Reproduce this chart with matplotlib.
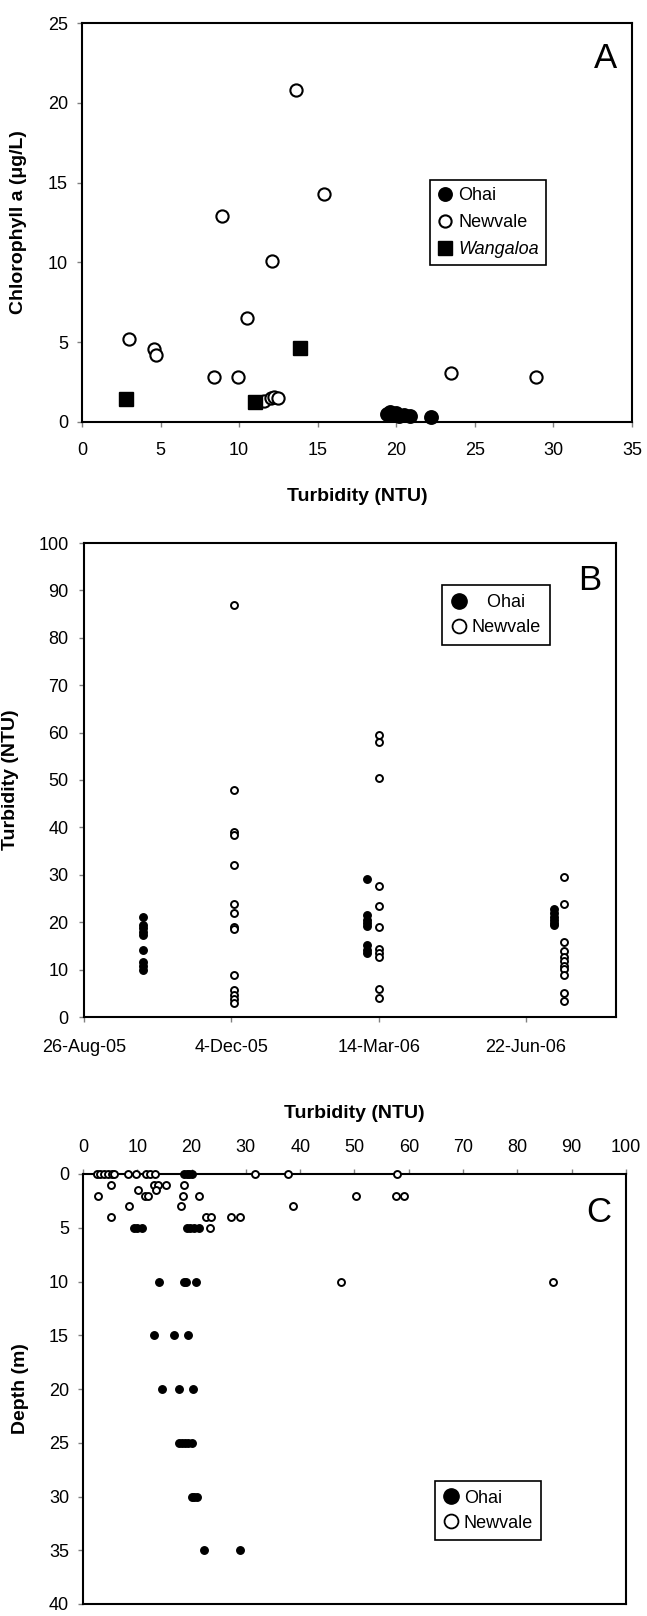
import matplotlib
matplotlib.use("Agg")
import matplotlib.pyplot as plt
from matplotlib.lines import Line2D
import numpy as np

plt.rcParams["font.family"] = ["Liberation Sans", "DejaVu Sans"]
plt.rcParams["font.size"] = 13

W, H = 647, 1616

# ---- panel A : chlorophyll a against turbidity
a_ohai_turb = [19.4, 19.6, 19.8, 20.0, 20.2, 20.5, 20.9, 22.2]
a_ohai_chla = [0.5, 0.6, 0.45, 0.55, 0.4, 0.45, 0.4, 0.3]
a_newvale_turb = [13.6, 15.4, 8.9, 12.1, 10.5, 3.0, 4.6, 4.7, 8.4, 9.9, 23.5, 28.9, 11.6, 12.0, 12.2, 12.5]
a_newvale_chla = [20.8, 14.3, 12.9, 10.1, 6.5, 5.2, 4.6, 4.2, 2.8, 2.8, 3.1, 2.8, 1.3, 1.5, 1.55, 1.5]
a_wang_turb = [2.8, 11.0, 13.9]
a_wang_chla = [1.45, 1.25, 4.65]

# ---- panel B : turbidity by sampling date
b_tick_dates = ["2005-08-26", "2005-12-04", "2006-03-14", "2006-06-22"]
b_tick_labels = ["26-Aug-05", "4-Dec-05", "14-Mar-06", "22-Jun-06"]
b_ohai_dates = ["2005-10-05", "2006-03-06", "2006-07-11"]
b_ohai_turb = [
    [21.2, 19.5, 18.8, 18.0, 17.3, 14.2, 11.5, 10.7, 10.0],
    [29.1, 21.6, 20.5, 19.8, 19.2, 15.2, 14.2, 13.5],
    [22.7, 21.9, 21.1, 20.4, 19.8, 19.4],
]
b_newvale_dates = ["2005-12-06", "2006-03-14", "2006-07-18"]
b_newvale_turb = [
    [87.0, 47.9, 39.0, 38.3, 32.0, 23.8, 21.9, 19.0, 18.6, 8.9, 5.8, 4.7, 3.7, 3.0],
    [59.4, 58.0, 50.4, 27.6, 23.4, 18.9, 14.4, 13.5, 12.6, 5.9, 4.0],
    [29.5, 23.8, 15.9, 14.0, 12.7, 11.9, 10.7, 10.1, 8.9, 5.1, 3.4],
]

# ---- panel C : turbidity with depth
c_ohai_turb = [18.6, 19.1, 19.6, 20.1, 9.4, 9.9, 10.9, 19.1, 19.7, 20.4, 21.3,
               14.0, 18.6, 19.0, 20.9, 13.0, 16.7, 19.4, 14.6, 17.7, 20.3,
               17.6, 18.2, 18.8, 19.4, 20.0, 20.1, 20.5, 21.0, 22.2, 28.9]
c_ohai_depth = [0, 0, 0, 0, 5, 5, 5, 5, 5, 5, 5,
                10, 10, 10, 10, 15, 15, 15, 20, 20, 20,
                25, 25, 25, 25, 25, 30, 30, 30, 35, 35]
c_newvale_turb = [2.5, 3.2, 3.9, 4.6, 5.3, 5.8, 8.2, 9.7, 11.6, 12.4, 13.2, 31.6, 37.8, 57.8,
                  5.1, 13.0, 13.8, 15.3, 18.6,
                  10.2, 13.4,
                  2.8, 11.4, 12.0, 18.4, 21.4, 50.2, 57.7, 59.2,
                  8.4, 18.1, 38.7,
                  5.1, 22.6, 23.5, 27.3, 28.9,
                  23.4,
                  47.5, 86.6]
c_newvale_depth = [0] * 14 + [1] * 5 + [1.5] * 2 + [2] * 8 + [3] * 3 + [4] * 5 + [5] + [10] * 2


def px_axes(fig, left, top, right, bottom):
    return fig.add_axes([left / W, (H - bottom) / H, (right - left) / W, (bottom - top) / H])


def style(ax, xpad, ypad):
    for s in ax.spines.values():
        s.set_linewidth(1.5)
        s.set_color("black")
    ax.tick_params(direction="out", length=3.6, width=1, color="#808080",
                   labelsize=13, labelcolor="black")
    ax.tick_params(axis="x", pad=xpad)
    ax.tick_params(axis="y", pad=ypad)


fig = plt.figure(figsize=(W / 100, H / 100), dpi=100)

# panel A
ax = px_axes(fig, 82, 23, 632, 422)
ax.plot(a_ohai_turb, a_ohai_chla, "o", ms=9.5, mfc="black", mec="black", mew=1.2,
        clip_on=False, zorder=3, label="Ohai")
ax.plot(a_newvale_turb, a_newvale_chla, "o", ms=8.8, mfc="white", mec="black", mew=1.5,
        clip_on=False, zorder=3, label="Newvale")
ax.plot(a_wang_turb, a_wang_chla, "s", ms=10.5, mfc="black", mec="black", mew=1,
        clip_on=False, zorder=4, label="Wangaloa")
ax.set_xlim(0, 35)
ax.set_ylim(0, 25)
ax.set_xticks(np.arange(0, 36, 5))
ax.set_yticks(np.arange(0, 26, 5))
style(ax, 11, 6.5)
ax.set_xlabel("Turbidity (NTU)", fontweight="bold", fontsize=14)
ax.set_ylabel("Chlorophyll a (μg/L)", fontweight="bold", fontsize=14)
ax.xaxis.set_label_coords(0.5, -0.165)
ax.yaxis.set_label_coords(-0.1, 0.5)
leg = ax.legend(loc="upper left", bbox_to_anchor=(0.633, 0.6065), borderaxespad=0,
                fancybox=False, edgecolor="black", framealpha=1, fontsize=13,
                handlelength=0.9, handletextpad=0.25, labelspacing=0.55, borderpad=0.4)
leg.get_frame().set_linewidth(1.2)
leg.get_texts()[2].set_style("italic")
ax.text(0.951, 0.912, "A", transform=ax.transAxes, fontsize=25, ha="center", va="center")

# panel B
ax = px_axes(fig, 84, 543, 616, 1017)
od = np.concatenate([np.repeat(np.datetime64(d), len(v)) for d, v in zip(b_ohai_dates, b_ohai_turb)])
ov = np.concatenate(b_ohai_turb)
nd = np.concatenate([np.repeat(np.datetime64(d), len(v)) for d, v in zip(b_newvale_dates, b_newvale_turb)])
nv = np.concatenate(b_newvale_turb)
ax.plot(od, ov, "o", ms=5.4, mfc="black", mec="black", mew=1, zorder=3)
ax.plot(nd, nv, "o", ms=5, mfc="white", mec="black", mew=1.4, zorder=3)
ax.set_xlim(np.datetime64("2005-08-26"), np.datetime64("2006-08-22"))
ax.set_ylim(0, 100)
ax.set_xticks([np.datetime64(d) for d in b_tick_dates])
ax.set_xticklabels(b_tick_labels)
ax.set_yticks(np.arange(0, 101, 10))
style(ax, 12, 7.5)
ax.set_ylabel("Turbidity (NTU)", fontweight="bold", fontsize=14)
ax.yaxis.set_label_coords(-0.123, 0.5)
handles = [Line2D([], [], ls="none", marker="o", ms=11, mfc="black", mec="black", mew=1),
           Line2D([], [], ls="none", marker="o", ms=10, mfc="white", mec="black", mew=1.3)]
leg = ax.legend(handles, ["   Ohai", "Newvale"], loc="upper left", bbox_to_anchor=(0.673, 0.911),
                borderaxespad=0, fancybox=False, edgecolor="black", framealpha=1, fontsize=13,
                handlelength=0.9, handletextpad=0.25, labelspacing=0.45, borderpad=0.5)
leg.get_frame().set_linewidth(1.2)
ax.text(0.95, 0.92, "B", transform=ax.transAxes, fontsize=25, ha="center", va="center")

# panel C
ax = px_axes(fig, 83, 1174, 626, 1604)
ax.plot(c_ohai_turb, c_ohai_depth, "o", ms=5.4, mfc="black", mec="black", mew=1,
        clip_on=False, zorder=3)
ax.plot(c_newvale_turb, c_newvale_depth, "o", ms=5, mfc="white", mec="black", mew=1.4,
        clip_on=False, zorder=4)
ax.set_xlim(0, 100)
ax.set_ylim(40, 0)
ax.set_xticks(np.arange(0, 101, 10))
ax.set_yticks(np.arange(0, 41, 5))
ax.xaxis.tick_top()
ax.xaxis.set_label_position("top")
style(ax, 9, 6.5)
ax.set_xlabel("Turbidity (NTU)", fontweight="bold", fontsize=14)
ax.set_ylabel("Depth (m)", fontweight="bold", fontsize=14)
ax.xaxis.set_label_coords(0.5, 1.13)
ax.yaxis.set_label_coords(-0.0995, 0.5)
handles = [Line2D([], [], ls="none", marker="o", ms=11, mfc="black", mec="black", mew=1),
           Line2D([], [], ls="none", marker="o", ms=10, mfc="white", mec="black", mew=1.3)]
leg = ax.legend(handles, ["Ohai", "Newvale"], loc="upper left", bbox_to_anchor=(0.648, 0.285),
                borderaxespad=0, fancybox=False, edgecolor="black", framealpha=1, fontsize=13,
                handlelength=0.9, handletextpad=0.25, labelspacing=0.45, borderpad=0.45)
leg.get_frame().set_linewidth(1.2)
ax.text(0.95, 0.91, "C", transform=ax.transAxes, fontsize=25, ha="center", va="center")

fig.savefig("out.png", dpi=100)
